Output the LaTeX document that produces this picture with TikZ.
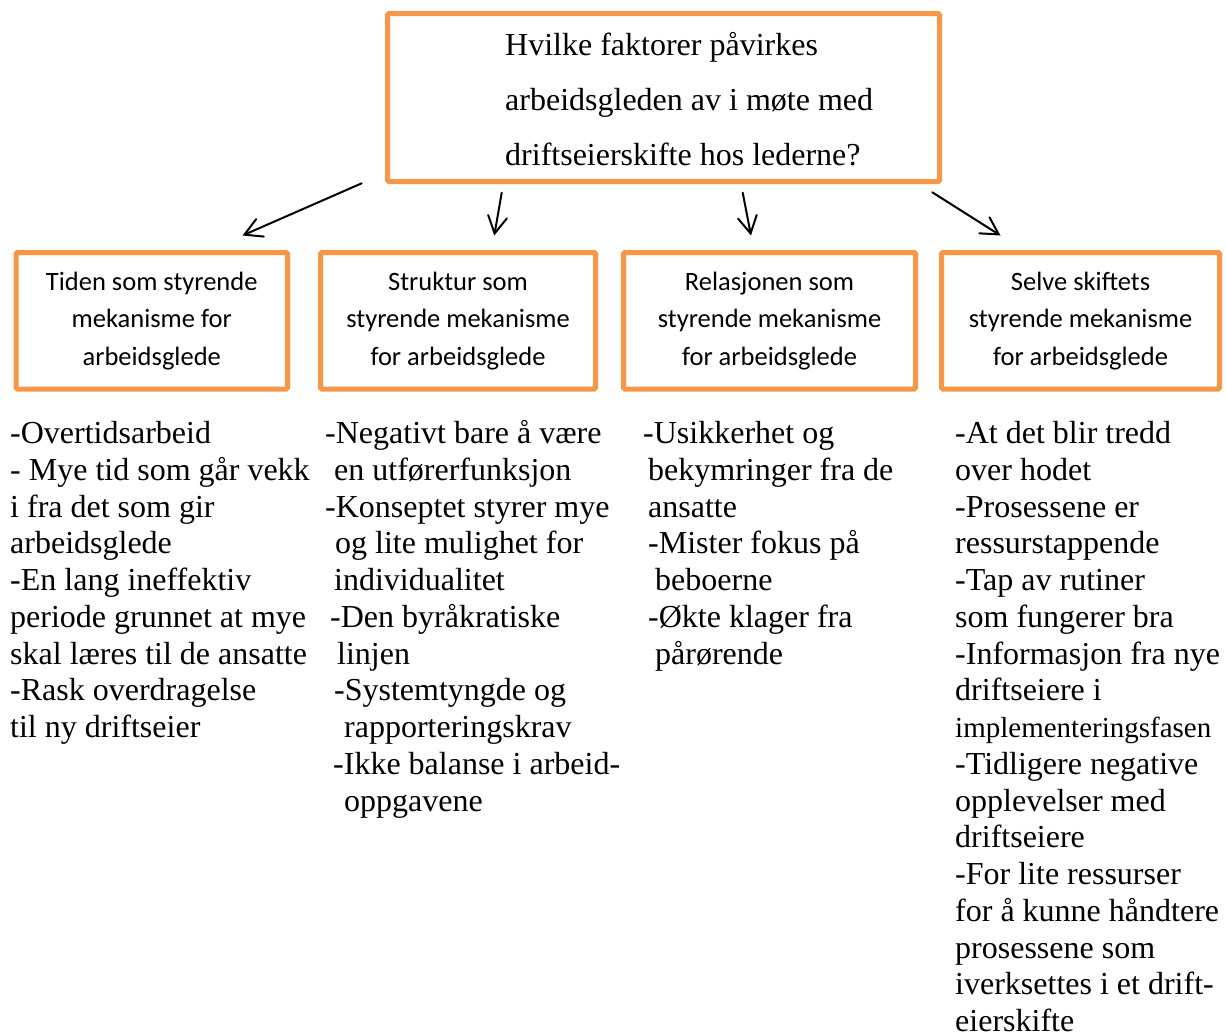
\documentclass[tikz,border=0pt]{standalone}
\usepackage{fontspec}
\setmainfont{Liberation Serif}
\newfontfamily\boxfont{Carlito}
\usetikzlibrary{arrows.meta}
\definecolor{accorange}{HTML}{F79646}
\begin{document}
\begin{tikzpicture}[x=1pt,y=-1pt,
  obox/.style={draw=accorange, line width=5pt, rounded corners=1.5pt, inner sep=0pt},
  subbox/.style={obox, minimum height=136.5pt, align=center,
    font=\boxfont\fontsize{26.5}{37.5}\selectfont},
  listtxt/.style={anchor=north west, inner sep=0pt, align=left,
    font=\fontsize{32}{36.75}\selectfont},
  toptxt/.style={anchor=north west, inner sep=0pt, align=left,
    font=\fontsize{32}{55}\selectfont},
  arr/.style={draw=black, line width=2pt, line cap=round,
    -{Straight Barb[length=17pt,width=19pt,line cap=round]}}]
\useasboundingbox (0,0) rectangle (1226,1034);
\fill[white] (0,0) rectangle (1226,1034);

% top question box
\node[obox, minimum width=552pt, minimum height=168pt] (q) at (663.5,97.5) {};
\node[toptxt] (qt) at (505,16.5) {\strut Hvilke faktorer påvirkes\\
arbeidsgleden av i møte med\\
driftseierskifte hos lederne?};

% sub boxes
\node[subbox, minimum width=271.5pt] (b1) at (151.75,320.75)
  {Tiden som styrende\\mekanisme for\\arbeidsglede};
\node[subbox, minimum width=275pt] (b2) at (458,320.75)
  {Struktur som\\styrende mekanisme\\for arbeidsglede};
\node[subbox, minimum width=292pt] (b3) at (769.5,320.75)
  {Relasjonen som\\styrende mekanisme\\for arbeidsglede};
\node[subbox, minimum width=278pt] (b4) at (1080.5,320.75)
  {Selve skiftets\\styrende mekanisme\\for arbeidsglede};

% arrows
\coordinate (a1s) at (361.7,183.3);
\coordinate (a1e) at (242.5,235.5);
\coordinate (a2s) at (501.7,192.7);
\coordinate (a2e) at (494.3,235.5);
\coordinate (a3s) at (742.7,192.7);
\coordinate (a3e) at (751,235.5);
\coordinate (a4s) at (932.3,192.3);
\coordinate (a4e) at (1000.5,235.5);
\draw[arr] (a1s) -- (a1e);
\draw[arr] (a2s) -- (a2e);
\draw[arr] (a3s) -- (a3e);
\draw[arr] (a4s) -- (a4e);

% lists
\node[listtxt] (l1) at (10,417.8) {\strut -Overtidsarbeid\\
- Mye tid som går vekk\\
i fra det som gir\\
arbeidsglede\\
-En lang ineffektiv\\
periode grunnet at mye\\
skal læres til de ansatte\\
-Rask overdragelse\\
til ny driftseier};

\node[listtxt] (l2) at (325,417.8) {\strut -Negativt bare å være\\
\hspace*{9pt}en utførerfunksjon\\
-Konseptet styrer mye\\
\hspace*{10pt}og lite mulighet for\\
\hspace*{9pt}individualitet\\
\hspace*{5pt}-Den byråkratiske\\
\hspace*{12pt}linjen\\
\hspace*{9pt}-Systemtyngde og\\
\hspace*{19pt}rapporteringskrav\\
\hspace*{8pt}-Ikke balanse i arbeid-\\
\hspace*{19pt}oppgavene};

\node[listtxt] (l3) at (643,417.8) {\strut -Usikkerhet og\\
\hspace*{5pt}bekymringer fra de\\
\hspace*{5pt}ansatte\\
\hspace*{5pt}-Mister fokus på\\
\hspace*{12pt}beboerne\\
\hspace*{5pt}-Økte klager fra\\
\hspace*{12pt}pårørende};

\node[listtxt] (l4) at (955,417.8) {\strut -At det blir tredd\\
over hodet\\
-Prosessene er\\
ressurstappende\\
-Tap av rutiner\\
som fungerer bra\\
-Informasjon fra nye\\
driftseiere i\\
{\fontsize{29}{36.75}\selectfont implementeringsfasen}\\
-Tidligere negative\\
opplevelser med\\
driftseiere\\
-For lite ressurser\\
for å kunne håndtere\\
prosessene som\\
iverksettes i et drift-\\
eierskifte};
\end{tikzpicture}
\end{document}
